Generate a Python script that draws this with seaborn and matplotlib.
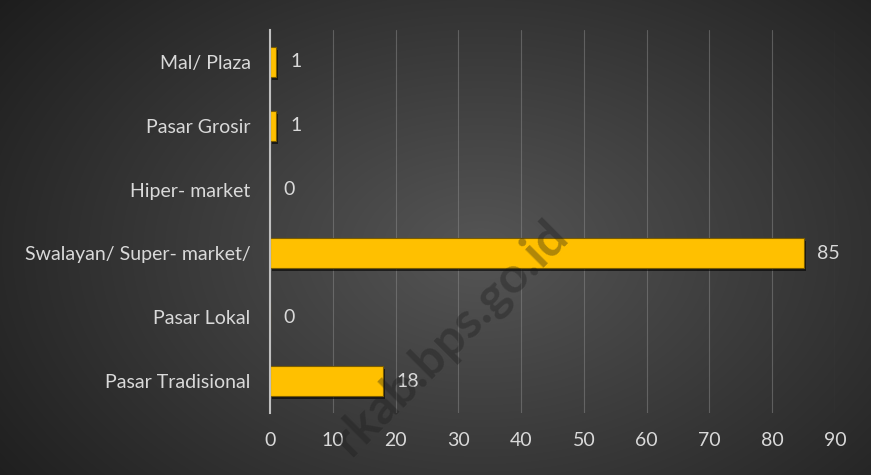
import numpy as np
import pandas as pd
import matplotlib
matplotlib.use("Agg")
import matplotlib.pyplot as plt
import matplotlib.patheffects as pe
import seaborn as sns

categories = ["Mal/ Plaza", "Pasar Grosir", "Hiper- market",
              "Swalayan/ Super- market/", "Pasar Lokal", "Pasar Tradisional"]
values = [1, 1, 0, 85, 0, 18]
xticks = [0, 10, 20, 30, 40, 50, 60, 70, 80, 90]

df = pd.DataFrame({"cat": categories, "val": values})

sns.set_theme(style="dark")
plt.rcParams["font.family"] = ["Lato", "DejaVu Sans"]

fig = plt.figure(figsize=(8.71, 4.75), dpi=100)

# radial gradient background
bg = fig.add_axes([0, 0, 1, 1], zorder=-10)
h, w = 475, 871
yy, xx = np.mgrid[0:h, 0:w]
cx, cy = 480, 250
r = np.sqrt(((xx - cx) / 620.0) ** 2 + ((yy - cy) / 420.0) ** 2)
r = np.clip(r, 0, 1)
c_in = np.array([0x55, 0x55, 0x55]) / 255.0
c_out = np.array([0x1c, 0x1c, 0x1c]) / 255.0
img = c_in[None, None, :] * (1 - r[..., None]) + c_out[None, None, :] * r[..., None]
bg.imshow(img, aspect="auto", extent=[0, 1, 0, 1], origin="upper")
bg.axis("off")

ax = fig.add_axes([0.31, 0.1305, 0.6487, 0.8063])
ax.set_facecolor("none")
sns.barplot(data=df, x="val", y="cat", orient="h", ax=ax, color="#FFC000",
            width=0.47, edgecolor="#7a5c00", linewidth=0.8, saturation=1,
            zorder=3)
for p in ax.patches:
    p.set_path_effects([pe.SimplePatchShadow(offset=(1.5, -2), shadow_rgbFace="black", alpha=0.6),
                        pe.Normal()])

ax.set_xlim(0, 90)
ax.set_xticks(xticks)
ax.set_xticklabels([str(t) for t in xticks])
ax.set_xlabel("")
ax.set_ylabel("")
ax.grid(axis="x", color="#8a8a8a", linewidth=0.8, alpha=0.5, zorder=0)
ax.grid(axis="y", visible=False)
for s in ["top", "right", "bottom"]:
    ax.spines[s].set_visible(False)
ax.spines["left"].set_color("#bfbfbf")
ax.spines["left"].set_linewidth(1.5)
ax.spines["left"].set_zorder(4)
ax.tick_params(axis="x", colors="#d9d9d9", labelsize=14, length=0, pad=14)
ax.tick_params(axis="y", colors="#d9d9d9", labelsize=14, length=0, pad=14)

for i, v in enumerate(values):
    ax.text(v + 2.2, i, str(v), color="#d9d9d9", fontsize=14,
            va="center", ha="left")

# watermark
fig.text(0.517, 0.29, "rkab.bps.go.id", rotation=45, fontsize=36,
         fontweight="bold", color="#1a1a1a", alpha=0.35,
         ha="center", va="center", zorder=5)

fig.savefig("out.png", dpi=100)
